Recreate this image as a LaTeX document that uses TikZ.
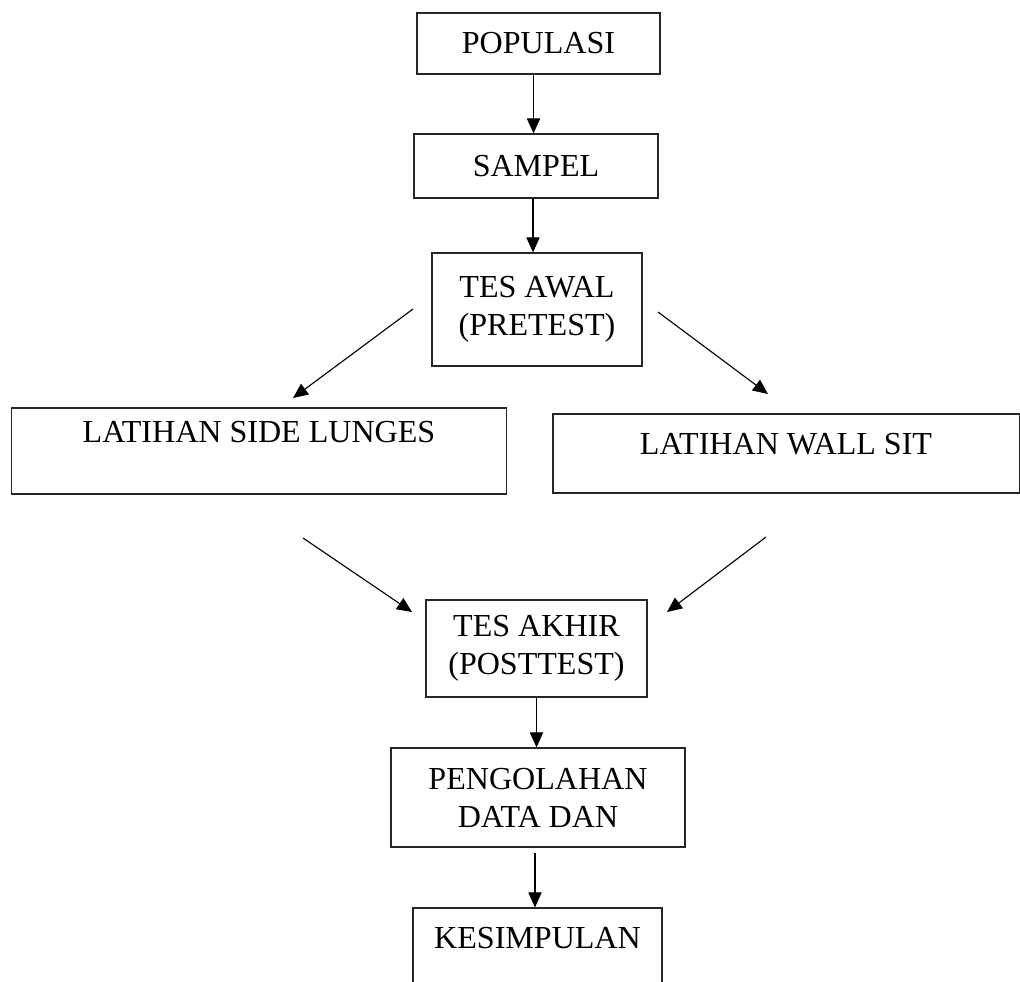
\documentclass[tikz,border=0pt]{standalone}
\usepackage{fontspec}
\setmainfont{Liberation Serif}
\usetikzlibrary{arrows.meta}

\begin{document}
\begin{tikzpicture}[
  x=0.025cm, y=-0.025cm,
  every node/.style={font=\fontsize{22.8}{27}\selectfont},
  box/.style={draw=black!85, line width=0.8pt, inner sep=0pt, align=center},
  arr/.style={-{Triangle[length=0.375cm, width=0.33cm]}, line width=0.8pt}
]
  \useasboundingbox (0,0) rectangle (1020,981);

  % Top of the chain
  \node[box, minimum width=6.075cm, minimum height=1.525cm]
    at (538.5,43.5) (pop) {POPULASI};
  \node[box, minimum width=6.1cm, minimum height=1.6cm]
    at (536,166) (sam) {SAMPEL};
  \node[box, minimum width=5.25cm, minimum height=2.825cm]
    at (537,309.5) (awal) {TES AWAL\\(PRETEST)};

  % The two training groups
  \node[box, minimum width=12.35cm, minimum height=2.15cm, text depth=0.95cm]
    at (259,451) (lunges) {LATIHAN SIDE LUNGES};
  \node[box, minimum width=11.65cm, minimum height=1.975cm, text depth=0.5cm]
    at (786,453.5) (wall) {LATIHAN WALL SIT};

  % Bottom of the chain
  \node[box, minimum width=5.525cm, minimum height=2.425cm]
    at (536.5,648.5) (akhir) {TES AKHIR\\(POSTTEST)};
  \node[box, minimum width=7.35cm, minimum height=2.475cm]
    at (538,797.5) (olah) {PENGOLAHAN\\DATA DAN};
  \node[box, minimum width=6.225cm, minimum height=2.15cm, text depth=0.65cm]
    at (537.5,951) (simp) {KESIMPULAN};

  % Free ends of the slanted arrows
  \coordinate (awalL) at (413,309);
  \coordinate (lungesT) at (293,398);
  \coordinate (awalR) at (658,312);
  \coordinate (wallT) at (768,394);
  \coordinate (lungesB) at (303,538);
  \coordinate (akhirL) at (412,612);
  \coordinate (wallB) at (766,537);
  \coordinate (akhirR) at (667,612);

  % Arrows
  \draw[arr] ([xshift=-0.125cm]pop.south) -- ([xshift=-0.125cm]pop.south |- sam.north);
  \draw[arr] ([xshift=-0.075cm]sam.south) -- ([xshift=-0.075cm]sam.south |- awal.north);
  \draw[arr] (awalL) -- (lungesT);
  \draw[arr] (awalR) -- (wallT);
  \draw[arr] (lungesB) -- (akhirL);
  \draw[arr] (wallB) -- (akhirR);
  \draw[arr] (akhir.south) -- (akhir.south |- olah.north);
  \draw[arr, shorten <=0.125cm] ([xshift=-0.075cm]olah.south) -- ([xshift=-0.075cm]olah.south |- simp.north);
\end{tikzpicture}
\end{document}
